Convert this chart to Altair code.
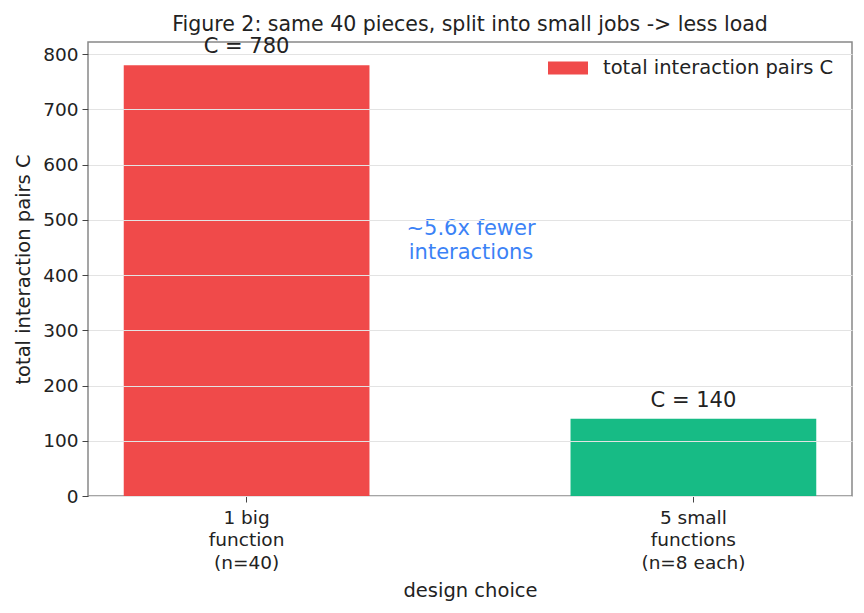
import altair as alt
import pandas as pd

categories = ["1 big\nfunction\n(n=40)", "5 small\nfunctions\n(n=8 each)"]
values = [780, 140]
labels = ["C = 780", "C = 140"]
bar_colors = ["#ef4444", "#10b981"]
legend_label = "total interaction pairs C"
annotation_text = "~5.6x fewer\ninteractions"
annotation_y = [483]

df = pd.DataFrame({"cat": categories, "value": values, "label": labels})
ann = pd.DataFrame({"y": annotation_y, "t": [annotation_text]})

FONT = "DejaVu Sans"
TXT = "#222222"

x_enc = alt.X(
    "cat:N",
    sort=categories,
    title="design choice",
    scale=alt.Scale(paddingInner=0.45, paddingOuter=0.08),
    axis=alt.Axis(
        labelAngle=0,
        labelExpr="split(datum.label, '\\n')",
        labelFontSize=18.5,
        labelLineHeight=22.5,
        labelColor=TXT,
        labelPadding=6,
        tickSize=6,
        tickColor="#444444",
        domain=False,
        titleFontSize=19.5,
        titleFontWeight="normal",
        titleColor=TXT,
        titlePadding=10,
        grid=False,
    ),
)
y_enc = alt.Y(
    "value:Q",
    title="total interaction pairs  C",
    scale=alt.Scale(domain=[0, 822], nice=False),
    axis=alt.Axis(
        values=list(range(0, 900, 100)),
        labelFontSize=18.5,
        labelColor=TXT,
        labelPadding=4,
        tickSize=6,
        tickColor="#444444",
        domain=False,
        grid=True,
        gridColor="#e3e3e3",
        gridWidth=1,
        titleFontSize=19.5,
        titleFontWeight="normal",
        titleColor=TXT,
        titlePadding=9,
        zindex=1,
    ),
)

bars = alt.Chart(df).mark_bar(opacity=0.97).encode(
    x=x_enc,
    y=y_enc,
    fill=alt.Fill(
        "cat:N",
        scale=alt.Scale(domain=categories, range=bar_colors),
        legend=alt.Legend(
            title=None,
            values=[categories[0]],
            labelExpr=f"'{legend_label}'",
            orient="none",
            legendX=456,
            legendY=2,
            symbolType="M-1,-0.33H1V0.33H-1Z",
            symbolSize=1600,
            symbolStrokeWidth=0,
            labelFontSize=19.5,
            labelColor=TXT,
            labelFont=FONT,
            labelOffset=15,
            labelLimit=500,
            padding=4,
        ),
    ),
)

labs = alt.Chart(df).mark_text(
    fontSize=21, color=TXT, baseline="middle", dy=-18, font=FONT
).encode(x=alt.X("cat:N", sort=categories), y="value:Q", text="label:N")

annot = alt.Chart(ann).mark_text(
    fontSize=21, color="#3b82f6", align="center", baseline="middle",
    lineBreak="\n", lineHeight=23.5, font=FONT
).encode(x=alt.value(383), y=alt.Y("y:Q"), text="t:N")

chart = alt.layer(bars, labs, annot).properties(
    width=764,
    height=454,
    title=alt.TitleParams(
        "Figure 2: same 40 pieces, split into small jobs -> less load",
        fontSize=20.5, fontWeight="normal", color=TXT, font=FONT, offset=8, dy=7,
    ),
    autosize=alt.AutoSizeParams(type="none"),
    padding={"left": 88, "top": 42, "right": 12, "bottom": 117},
).configure(font=FONT).configure_view(
    stroke="#888888", strokeWidth=1.5
).configure_axis(labelFont=FONT, titleFont=FONT)

chart.save("out.html", embed_options={"renderer": "svg", "actions": False})
